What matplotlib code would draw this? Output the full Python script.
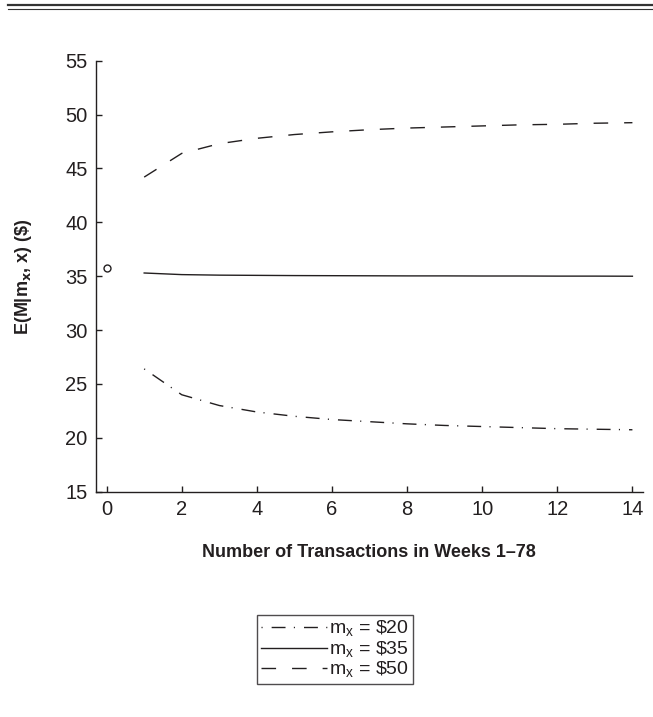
import matplotlib
matplotlib.use('Agg')
import matplotlib.pyplot as plt
from matplotlib.lines import Line2D

# data
transactions = list(range(1, 15))
m20 = [26.4, 24.0, 23.0, 22.4, 22.0, 21.7, 21.5, 21.3, 21.15, 21.05, 20.95, 20.85, 20.8, 20.75]
m35 = [35.3, 35.15, 35.1, 35.08, 35.06, 35.05, 35.04, 35.03, 35.03, 35.02, 35.02, 35.01, 35.01, 35.0]
m50 = [44.2, 46.4, 47.3, 47.8, 48.15, 48.4, 48.6, 48.75, 48.85, 48.95, 49.05, 49.1, 49.2, 49.25]
zero_x = [0]
zero_y = [35.8]
labels = ['m$_\\mathregular{x}$ = \\$20', 'm$_\\mathregular{x}$ = \\$35', 'm$_\\mathregular{x}$ = \\$50']


def main():
    plt.rcParams['font.family'] = ['Liberation Sans', 'DejaVu Sans']
    ink = '#231f20'

    fig = plt.figure(figsize=(6.53, 7.17), dpi=100)
    ax = fig.add_axes([0.1466, 0.3142, 0.8374, 0.6011])

    l20, = ax.plot(transactions, m20, color=ink, lw=1.0)
    l20.set_dashes([0.8, 6.5, 10, 6])
    l35, = ax.plot(transactions, m35, color=ink, lw=1.0)
    l50, = ax.plot(transactions, m50, color=ink, lw=1.0)
    l50.set_dashes([10.5, 11.5])
    ax.plot(zero_x, zero_y, 'o', mfc='none', mec=ink, ms=5, mew=1.0)

    ax.set_xlim(-0.29, 14.27)
    ax.set_ylim(15, 55)
    ax.set_xticks(range(0, 15, 2))
    ax.set_yticks(range(15, 56, 5))
    for side in ('top', 'right'):
        ax.spines[side].set_visible(False)
    for side in ('left', 'bottom'):
        ax.spines[side].set_color(ink)
        ax.spines[side].set_linewidth(1.0)
    ax.tick_params(direction='in', length=4, width=1.0, colors=ink,
                   labelsize=14.5, pad=6)

    ax.set_xlabel('Number of Transactions in Weeks 1\u201378', fontsize=13,
                  fontweight='bold', color=ink, labelpad=18)
    ax.set_ylabel('E(M|m$_\\mathbf{x}$, x) (\\$)', fontsize=13,
                  fontweight='bold', color=ink, labelpad=22)

    leg = fig.legend([l20, l35, l50], labels, loc='center',
                     bbox_to_anchor=(0.513, 0.094), fontsize=14,
                     frameon=True, fancybox=False, handlelength=3.4,
                     handletextpad=0.1, borderpad=0.2, labelspacing=0.0,
                     borderaxespad=0)
    leg.get_frame().set_edgecolor(ink)
    leg.get_frame().set_linewidth(1.0)
    for t in leg.get_texts():
        t.set_color(ink)

    # double rule across the top
    fig.add_artist(Line2D([8 / 653, 1], [1 - 4.7 / 717] * 2, color='#333333', lw=1.6))
    fig.add_artist(Line2D([8 / 653, 1], [1 - 9 / 717] * 2, color='#333333', lw=0.8))

    fig.savefig('out.png', dpi=100)


if __name__ == '__main__':
    main()
